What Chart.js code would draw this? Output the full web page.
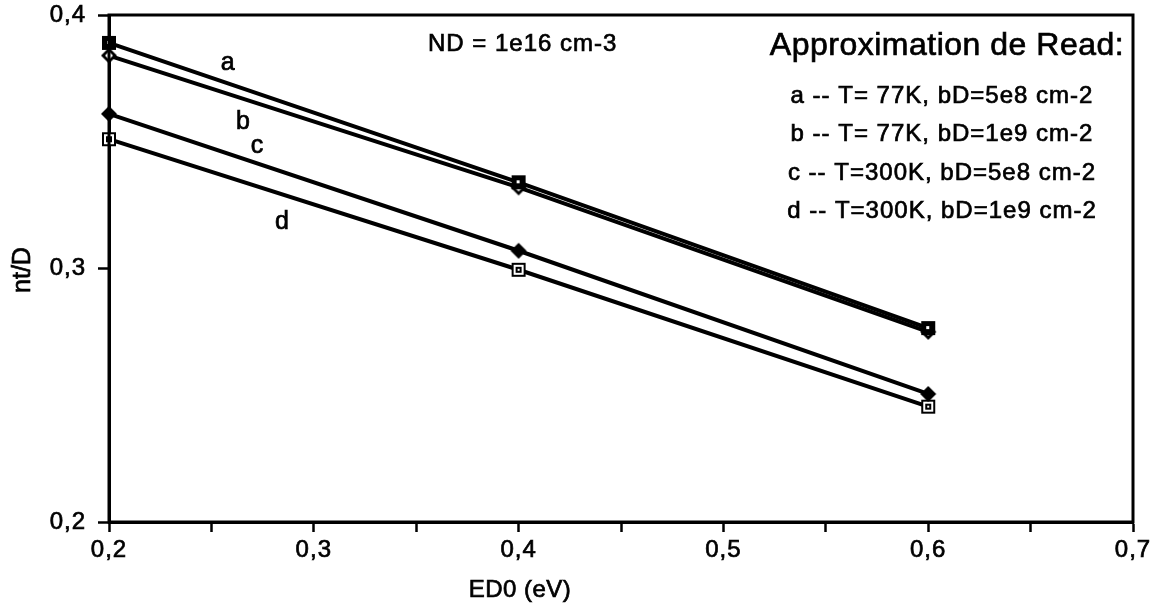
<!DOCTYPE html>
<html>
<head>
<meta charset="utf-8">
<script src="https://cdn.jsdelivr.net/npm/chart.js@4.4.0/dist/chart.umd.min.js"></script>
<style>
  html,body{margin:0;padding:0;background:#fff;}
  #wrap{width:1160px;height:610px;}
</style>
</head>
<body>
<div id="wrap"><canvas id="chart" width="1160" height="610"></canvas></div>
<script>
// --- données ---
const energies=[0.2,0.4,0.6];            // ED0 (eV)
const serieA=[0.389,0.334,0.2765];       // T=77K, bD=5e8
const serieB=[0.384,0.332,0.2750];       // T=77K, bD=1e9
const serieC=[0.361,0.307,0.2505];       // T=300K, bD=5e8
const serieD=[0.351,0.2995,0.2455];      // T=300K, bD=1e9
const seriesNames=["a","b","c","d"];
const legendLines=[
  "a -- T= 77K, bD=5e8 cm-2",
  "b -- T= 77K, bD=1e9 cm-2",
  "c -- T=300K, bD=5e8 cm-2",
  "d -- T=300K, bD=1e9 cm-2"
];
const xTicks=[0.2,0.3,0.4,0.5,0.6,0.7];
const yTicks=[0.2,0.3,0.4];

const FONT="'Liberation Sans', Arial, Helvetica, sans-serif";

// petits marqueurs dessinés à la main (carré plein, losange, etc.)
function makeMarker(kind){
  const c=document.createElement('canvas');
  c.width=18;c.height=18;
  const g=c.getContext('2d');
  g.fillStyle='#000';
  if(kind==='sqFull'){
    g.fillRect(2,2,14,14);
    g.fillStyle='#fff';g.fillRect(7,7,3,3);
  } else if(kind==='dmOpen'){
    g.beginPath();g.moveTo(9,1);g.lineTo(17,9);g.lineTo(9,17);g.lineTo(1,9);g.closePath();g.fill();
    g.fillStyle='#fff';
    g.beginPath();g.moveTo(9,5);g.lineTo(13,9);g.lineTo(9,13);g.lineTo(5,9);g.closePath();g.fill();
    g.fillStyle='#000';g.fillRect(8,8,2,2);
  } else if(kind==='dmFull'){
    g.beginPath();g.moveTo(9,1);g.lineTo(17,9);g.lineTo(9,17);g.lineTo(1,9);g.closePath();g.fill();
  } else {
    g.fillRect(2,2,14,14);
    g.fillStyle='#fff';g.fillRect(4,4,10,10);
    g.fillStyle='#000';g.fillRect(6,6,6,6);
    g.fillStyle='#fff';g.fillRect(8,8,2,2);
  }
  return c;
}

function fmt(v){ return v.toFixed(1).replace('.',','); }

// espacement des lettres pour imiter la police d'origine (plus large)
const spacing={
  id:'spacing',
  beforeDraw(chart){ chart.ctx.letterSpacing='1px'; }
};

// texte un peu plus gras (trait + remplissage)
function txt(ctx,s,x,y){
  ctx.strokeText(s,x,y);
  ctx.fillText(s,x,y);
}

// texte libre : titres d'axes, ND, lettres a..d, légende "Approximation de Read"
const annotations={
  id:'annotations',
  afterDatasetsDraw(chart){
    const {ctx,scales:{x,y},chartArea:a}=chart;
    ctx.save();
    ctx.fillStyle='#000';
    ctx.strokeStyle='#000';
    ctx.lineWidth=0.7;
    ctx.textAlign='center';
    ctx.textBaseline='middle';
    ctx.letterSpacing='1px';
    ctx.font='24px '+FONT;
    txt(ctx,"ND = 1e16 cm-3",x.getPixelForValue(0.402),y.getPixelForValue(0.3886));
    const lettersPos=[[0.258,0.381],[0.2654,0.3578],[0.2723,0.3483],[0.2845,0.3183]];
    ctx.letterSpacing='0px';
    ctx.font='25px '+FONT;
    seriesNames.forEach((n,i)=>{
      txt(ctx,n,x.getPixelForValue(lettersPos[i][0]),y.getPixelForValue(lettersPos[i][1]));
    });
    ctx.letterSpacing='0.5px';
    ctx.font='32px '+FONT;
    txt(ctx,"Approximation de Read:",947,46);
    ctx.letterSpacing='1px';
    ctx.font='24px '+FONT;
    legendLines.forEach((t,i)=>{
      txt(ctx,t,942,96+i*38.5);
    });
    // titres d'axes
    ctx.letterSpacing='0.5px';
    ctx.font='24px '+FONT;
    txt(ctx,"ED0 (eV)",520,590);
    ctx.save();
    ctx.translate(23,270);
    ctx.rotate(-Math.PI/2);
    ctx.letterSpacing='0px';
    ctx.font='25px '+FONT;
    txt(ctx,"nt/D",0,0);
    ctx.restore();
    // cadre
    ctx.lineWidth=3;
    ctx.strokeRect(a.left,a.top,a.right-a.left,a.bottom-a.top);
    ctx.restore();
  }
};

const mk=[makeMarker('sqFull'),makeMarker('dmOpen'),makeMarker('dmFull'),makeMarker('sqOpen')];
const allSeries=[serieA,serieB,serieC,serieD];

new Chart(document.getElementById('chart').getContext('2d'),{
  type:'line',
  data:{
    datasets:allSeries.map((s,i)=>({
      label:seriesNames[i],
      data:s.map((v,k)=>({x:energies[k],y:v})),
      borderColor:'#000',
      borderWidth:4,
      pointStyle:mk[i],
      tension:0,
      fill:false,
      clip:false
    }))
  },
  options:{
    responsive:false,
    animation:false,
    layout:{padding:{top:15,right:27,left:0,bottom:0}},
    plugins:{legend:{display:false},tooltip:{enabled:false}},
    scales:{
      x:{
        type:'linear',min:0.2,max:0.7,
        afterFit(s){ s.height=88; s.paddingLeft=0; s.paddingRight=0; },
        afterBuildTicks(s){
          s.ticks=[];
          for(let i=0;i<=10;i++) s.ticks.push({value:+(0.2+i*0.05).toFixed(2)});
        },
        ticks:{
          autoSkip:false,maxRotation:0,
          font:{family:FONT,size:24},color:'#000',padding:4,
          textStrokeColor:'#000',textStrokeWidth:0.7,
          callback:(v)=> xTicks.some(t=>Math.abs(t-v)<1e-6)? fmt(v):''
        },
        grid:{drawOnChartArea:false,tickLength:10,tickWidth:2.5,tickColor:'#000'},
        border:{color:'#000',width:3}
      },
      y:{
        type:'linear',min:0.2,max:0.4,
        afterFit(s){ s.width=109; s.paddingTop=0; s.paddingBottom=0; },
        afterBuildTicks(s){ s.ticks=yTicks.map(v=>({value:v})); },
        ticks:{font:{family:FONT,size:24},color:'#000',padding:12,
          textStrokeColor:'#000',textStrokeWidth:0.7,
          callback:(v)=>fmt(v)},
        grid:{drawOnChartArea:false,tickLength:11,tickWidth:2.5,tickColor:'#000'},
        border:{color:'#000',width:3}
      }
    }
  },
  plugins:[spacing,annotations]
});
</script>
</body>
</html>
